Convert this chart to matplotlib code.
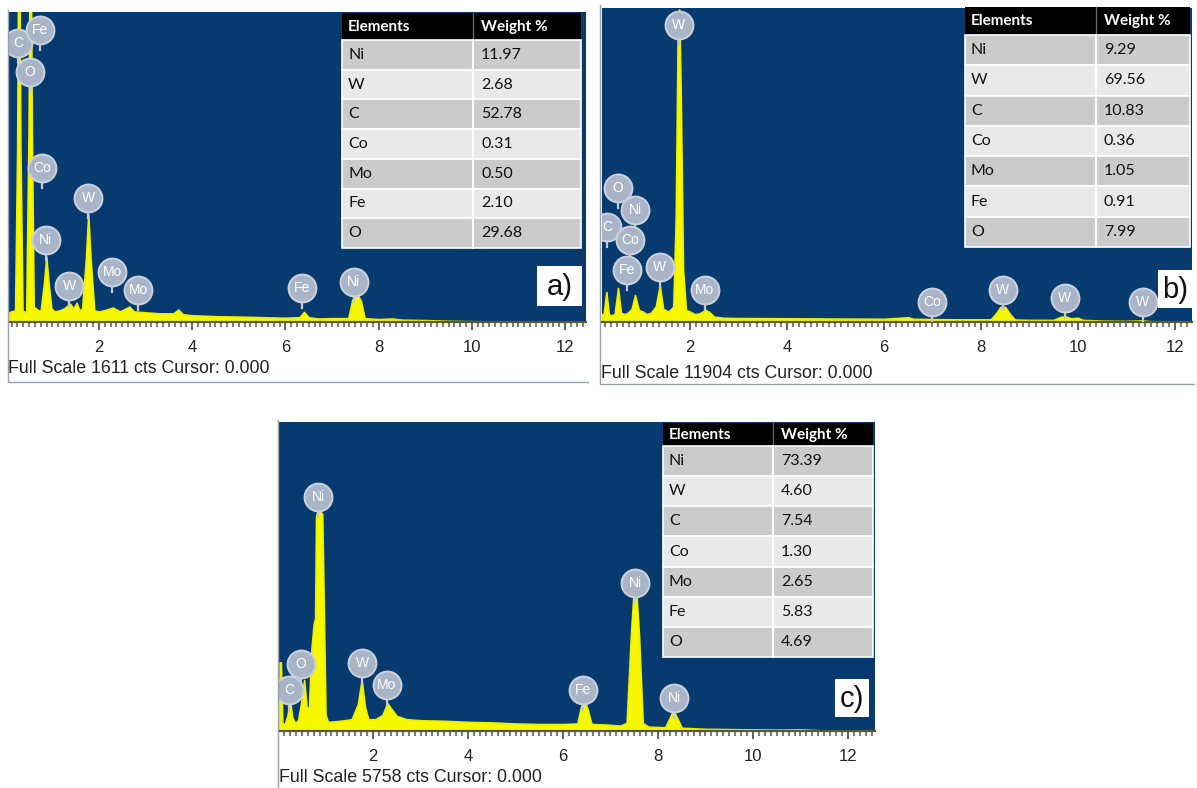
import matplotlib.pyplot as plt
from matplotlib.patches import Rectangle
from matplotlib.ticker import MultipleLocator, FixedLocator

W, H = 1197, 788

# spectrum a (energy keV, counts)
energy_a = [0.07, 0.12, 0.2, 0.245, 0.28, 0.315, 0.36, 0.42, 0.44, 0.49, 0.525, 0.56, 0.6,
            0.7, 0.75, 0.82, 0.87, 0.92, 0.98, 1.05, 1.15, 1.25, 1.3, 1.38, 1.45, 1.52, 1.58,
            1.64, 1.72, 1.77, 1.82, 1.9, 2.0, 2.1, 2.3, 2.45, 2.65, 2.75, 3.0, 3.3, 3.6, 3.7,
            3.8, 4.0, 4.5, 5.0, 5.5, 6.0, 6.3, 6.4, 6.5, 6.7, 7.0, 7.35, 7.43, 7.48, 7.55,
            7.62, 7.7, 8.0, 8.3, 8.5, 9.0, 9.5, 10.0, 11.0, 12.45]
counts_a = [50, 55, 60, 900, 2400, 900, 60, 50, 60, 1000, 2400, 1000, 80,
            60, 60, 200, 340, 200, 70, 55, 60, 70, 80, 95, 70, 100, 60,
            70, 330, 560, 330, 60, 55, 60, 75, 55, 80, 55, 50, 45, 45, 65,
            40, 35, 30, 28, 25, 22, 25, 52, 25, 18, 20, 20, 110, 140, 140,
            110, 20, 15, 18, 12, 10, 6, 4, 2, 0]

energy_b = [0.19, 0.22, 0.28, 0.33, 0.38, 0.45, 0.52, 0.58, 0.65, 0.72, 0.8, 0.87, 0.95,
            1.05, 1.1, 1.2, 1.3, 1.38, 1.45, 1.55, 1.62, 1.66, 1.71, 1.75, 1.78, 1.81, 1.86,
            1.92, 2.0, 2.1, 2.2, 2.32, 2.4, 2.5, 2.7, 3.0, 4.0, 5.0, 6.0, 6.5, 6.6, 7.0, 7.5,
            8.2, 8.32, 8.4, 8.5, 8.6, 8.7, 9.0, 9.5, 9.65, 9.75, 9.85, 10.0, 10.1, 10.5,
            11.0, 11.3, 11.5, 12.35]
counts_b = [300, 250, 1140, 300, 250, 300, 1290, 350, 300, 350, 500, 1020, 450,
            380, 300, 350, 600, 1400, 500, 400, 500, 600, 4000, 11000, 11850, 9000, 2000,
            450, 400, 300, 330, 460, 380, 200, 160, 150, 140, 130, 120, 180, 120, 110, 100,
            100, 350, 570, 570, 300, 90, 80, 80, 200, 210, 140, 160, 80, 50,
            40, 60, 30, 20]

energy_c = [0.02, 0.035, 0.06, 0.09, 0.14, 0.2, 0.25, 0.3, 0.36, 0.42, 0.48, 0.55, 0.6,
            0.65, 0.7, 0.75, 0.78, 0.8, 0.84, 0.93, 0.96, 1.0, 1.05, 1.2, 1.4, 1.55, 1.68,
            1.76, 1.83, 1.9, 2.05, 2.2, 2.3, 2.38, 2.5, 2.7, 3.0, 3.5, 4.0, 4.5, 5.0, 5.5,
            6.0, 6.3, 6.38, 6.45, 6.52, 6.6, 6.9, 7.2, 7.34, 7.43, 7.48, 7.55, 7.6, 7.68,
            7.8, 8.15, 8.25, 8.32, 8.4, 8.5, 9.0, 9.5, 10.0, 10.5, 11.0, 11.5, 12.57]
counts_c = [0, 1280, 1280, 150, 120, 300, 578, 250, 150, 200, 500, 950, 450,
            420, 1500, 2000, 2100, 4000, 4120, 4050, 2500, 300, 170, 180, 200, 220, 500,
            950, 450, 220, 220, 300, 520, 420, 280, 220, 200, 190, 170, 160, 140, 130,
            130, 140, 450, 578, 400, 130, 120, 100, 150, 1800, 2500, 2500, 1800, 150,
            80, 70, 250, 390, 250, 60, 40, 35, 30, 25, 30, 10, 0]

# peak labels (element, energy, counts)
lab_el_a = ['C', 'Fe', 'O', 'Co', 'W', 'Ni', 'W', 'Mo', 'Mo', 'Fe', 'Ni']
lab_e_a = [0.26, 0.73, 0.52, 0.78, 1.77, 0.86, 1.36, 2.29, 2.84, 6.36, 7.47]
lab_y_a = [1450, 1518, 1300, 800, 645, 426, 187, 260, 166, 177, 208]

lab_el_b = ['W', 'O', 'Ni', 'C', 'Co', 'Fe', 'W', 'Mo', 'Co', 'W', 'W', 'W']
lab_e_b = [1.77, 0.52, 0.87, 0.29, 0.76, 0.70, 1.38, 2.31, 6.99, 8.45, 9.73, 11.34]
lab_y_b = [11256, 5079, 4245, 3600, 3108, 1970, 2085, 1213, 758, 1213, 910, 758]

lab_el_c = ['Ni', 'O', 'C', 'W', 'Mo', 'Fe', 'Ni', 'Ni']
lab_e_c = [0.84, 0.48, 0.23, 1.77, 2.29, 6.42, 7.52, 8.34]
lab_y_c = [4360, 1248, 764, 1267, 857, 764, 2757, 615]

# tables
elements = ['Ni', 'W', 'C', 'Co', 'Mo', 'Fe', 'O']
weight_a = ['11.97', '2.68', '52.78', '0.31', '0.50', '2.10', '29.68']
weight_b = ['9.29', '69.56', '10.83', '0.36', '1.05', '0.91', '7.99']
weight_c = ['73.39', '4.60', '7.54', '1.30', '2.65', '5.83', '4.69']

full_scale = [1611, 11904, 5758]
panel_tags = ['a)', 'b)', 'c)']

BLUE = '#073a6e'
YELLOW = '#f8f800'
BADGE = '#a9b4c6'
SANS = ['Liberation Sans', 'DejaVu Sans']
TAB = ['Lato', 'DejaVu Sans']

fig = plt.figure(figsize=(W / 100, H / 100), dpi=100)


def rect(x0, y0, x1, y1):
    return [x0 / W, 1 - y1 / H, (x1 - x0) / W, (y1 - y0) / H]


def spectrum(box, xlim, full, energy, counts, lab_el, lab_e, lab_y):
    ax = fig.add_axes(rect(*box))
    ax.set_facecolor(BLUE)
    ax.fill_between(energy, 0, counts, color=YELLOW, lw=1.2, edgecolor='#eeee00')
    ax.set_xlim(*xlim)
    ax.set_ylim(0, full)
    for s in ['top', 'left', 'right']:
        ax.spines[s].set_visible(False)
    ax.spines['bottom'].set_color('#5a5a30')
    ax.spines['bottom'].set_linewidth(1.6)
    ax.set_yticks([])
    ax.xaxis.set_major_locator(FixedLocator([2, 4, 6, 8, 10, 12]))
    ax.xaxis.set_minor_locator(MultipleLocator(0.125))
    ax.tick_params(axis='x', which='major', direction='out', length=6, width=1.3,
                   color='#555555', labelsize=12, labelcolor='#222222', pad=7)
    ax.tick_params(axis='x', which='minor', direction='out', length=3.5, width=1.1,
                   color='#555555')
    for lb in ax.get_xticklabels():
        lb.set_family(SANS)
    # badge stems and circles
    cpp = full / (box[3] - box[1])
    for el, e, y in zip(lab_el, lab_e, lab_y):
        ax.plot([e, e], [y, y - 20 * cpp], color='#c3cad6', lw=1.6, zorder=3)
        ax.scatter([e], [y], s=400, color=BADGE, edgecolor='#c9d0dc', lw=1.5, zorder=4)
        ax.text(e, y, el, color='white', fontsize=10, ha='center', va='center',
                family=SANS, zorder=5)
    return ax


ax_a = spectrum((9, 12, 586, 322), (0.07, 12.45), full_scale[0], energy_a, counts_a,
                lab_el_a, lab_e_a, lab_y_a)
ax_b = spectrum((602, 8, 1192, 322), (0.19, 12.35), full_scale[1], energy_b, counts_b,
                lab_el_b, lab_e_b, lab_y_b)
ax_c = spectrum((279, 422, 875, 731), (0.02, 12.57), full_scale[2], energy_c, counts_c,
                lab_el_c, lab_e_c, lab_y_c)

# overlay in pixel coordinates for tables, tags and frames
ov = fig.add_axes([0, 0, 1, 1])
ov.set_xlim(0, W)
ov.set_ylim(H, 0)
ov.axis('off')
ov.set_zorder(10)


def table(x0, xd, x1, y0, yh, y1, values):
    ov.add_patch(Rectangle((x0, y0), x1 - x0, yh - y0, fc='black', ec='none'))
    ov.plot([xd, xd], [y0, yh], color='#666666', lw=1)
    ov.text(x0 + 6, (y0 + yh) / 2, 'Elements', color='white', fontsize=11,
            fontweight='bold', va='center', family=TAB)
    ov.text(xd + 8, (y0 + yh) / 2, 'Weight %', color='white', fontsize=11,
            fontweight='bold', va='center', family=TAB)
    rh = (y1 - yh) / len(elements)
    for i, (el, v) in enumerate(zip(elements, values)):
        top = yh + i * rh
        fc = '#cbcbcb' if i % 2 == 0 else '#e9e9e9'
        ov.add_patch(Rectangle((x0, top), x1 - x0, rh, fc=fc, ec='white', lw=1.2))
        ov.text(x0 + 6, top + rh / 2, el, color='#111111', fontsize=11.5, va='center',
                family=TAB)
        ov.text(xd + 8, top + rh / 2, v, color='#111111', fontsize=11.5, va='center',
                family=TAB)
    ov.plot([xd, xd], [yh, y1], color='white', lw=1.5)


table(342, 473, 581, 13, 40, 248, weight_a)
table(965, 1096, 1190, 7, 35, 247, weight_b)
table(663, 773, 873, 423, 446, 657, weight_c)


def tag(x0, y0, x1, y1, s):
    ov.add_patch(Rectangle((x0, y0), x1 - x0, y1 - y0, fc='white', ec='none'))
    ov.text((x0 + x1) / 2, (y0 + y1) / 2 + 1, s, fontsize=21, ha='center', va='center',
            family=SANS, color='#111111')


tag(537, 266, 582, 306, panel_tags[0])
tag(1158, 270, 1192, 308, panel_tags[1])
tag(835, 679, 869, 717, panel_tags[2])

# panel frames and captions
fc = '#9aa2ae'
ov.plot([8, 8, 588], [10, 382, 382], color=fc, lw=1)
ov.plot([600, 600, 1194], [5, 384, 384], color=fc, lw=1)
ov.plot([278, 278], [420, 788], color=fc, lw=1)
ov.text(8, 368, 'Full Scale %d cts Cursor: 0.000' % full_scale[0], fontsize=12.8,
        va='center', family=SANS, color='#222222')
ov.text(601, 373, 'Full Scale %d cts Cursor: 0.000' % full_scale[1], fontsize=12.8,
        va='center', family=SANS, color='#222222')
ov.text(279, 777, 'Full Scale %d cts Cursor: 0.000' % full_scale[2], fontsize=12.8,
        va='center', family=SANS, color='#222222')

fig.savefig('out.png', dpi=100)
